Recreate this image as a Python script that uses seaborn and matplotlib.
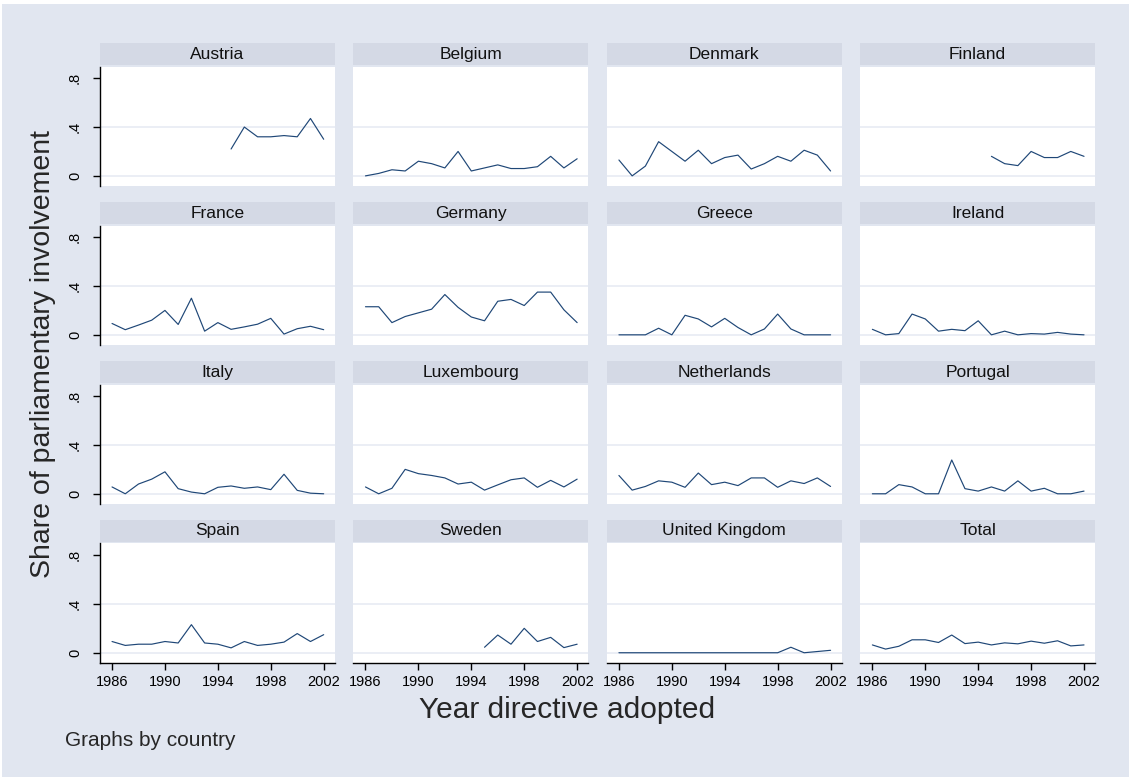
import numpy as np
import pandas as pd
import matplotlib
matplotlib.use("Agg")
import matplotlib.pyplot as plt
from matplotlib.patches import Rectangle
import seaborn as sns

na = np.nan
years = list(range(1986, 2003))
countries = ["Austria", "Belgium", "Denmark", "Finland",
             "France", "Germany", "Greece", "Ireland",
             "Italy", "Luxembourg", "Netherlands", "Portugal",
             "Spain", "Sweden", "United Kingdom", "Total"]

# share of directives with parliamentary involvement, 1986..2002
austria = [na] * 9 + [0.22, 0.40, 0.32, 0.32, 0.33, 0.32, 0.47, 0.30]
belgium = [0.0, 0.02, 0.05, 0.04, 0.12, 0.10, 0.065, 0.20, 0.04, 0.065, 0.09, 0.06, 0.06, 0.075, 0.16, 0.065, 0.14]
denmark = [0.13, 0.0, 0.08, 0.28, 0.20, 0.12, 0.21, 0.10, 0.15, 0.17, 0.056, 0.10, 0.16, 0.12, 0.21, 0.17, 0.04]
finland = [na] * 9 + [0.16, 0.10, 0.084, 0.20, 0.15, 0.15, 0.20, 0.16]
france = [0.093, 0.042, 0.08, 0.12, 0.20, 0.085, 0.30, 0.03, 0.10, 0.045, 0.065, 0.087, 0.135, 0.006, 0.05, 0.07, 0.042]
germany = [0.23, 0.23, 0.10, 0.15, 0.18, 0.21, 0.33, 0.225, 0.146, 0.115, 0.275, 0.29, 0.24, 0.35, 0.35, 0.205, 0.10]
greece = [0.0, 0.0, 0.0, 0.054, 0.0, 0.16, 0.13, 0.065, 0.135, 0.06, 0.0, 0.048, 0.17, 0.048, 0.0, 0.0, 0.0]
ireland = [0.045, 0.0, 0.01, 0.17, 0.13, 0.03, 0.045, 0.034, 0.115, 0.0, 0.03, 0.0, 0.01, 0.006, 0.02, 0.006, 0.0]
italy = [0.056, 0.0, 0.08, 0.12, 0.18, 0.042, 0.014, 0.0, 0.053, 0.064, 0.045, 0.056, 0.034, 0.16, 0.028, 0.005, 0.0]
luxembourg = [0.056, 0.0, 0.045, 0.20, 0.165, 0.15, 0.13, 0.08, 0.095, 0.03, 0.073, 0.115, 0.13, 0.053, 0.11, 0.056, 0.12]
netherlands = [0.15, 0.03, 0.06, 0.106, 0.095, 0.053, 0.17, 0.075, 0.095, 0.067, 0.13, 0.13, 0.053, 0.106, 0.084, 0.13, 0.06]
portugal = [0.0, 0.0, 0.075, 0.056, 0.0, 0.0, 0.277, 0.042, 0.022, 0.056, 0.022, 0.106, 0.022, 0.045, 0.0, 0.0, 0.022]
spain = [0.092, 0.06, 0.07, 0.07, 0.092, 0.08, 0.23, 0.08, 0.07, 0.04, 0.092, 0.06, 0.07, 0.087, 0.157, 0.092, 0.148]
sweden = [na] * 9 + [0.045, 0.145, 0.07, 0.20, 0.092, 0.126, 0.042, 0.07]
uk = [0.0] * 13 + [0.045, 0.0, 0.01, 0.02]
total = [0.064, 0.03, 0.053, 0.106, 0.106, 0.084, 0.145, 0.075, 0.087, 0.064, 0.081, 0.073, 0.095, 0.078, 0.098, 0.056, 0.064]

series = [austria, belgium, denmark, finland, france, germany, greece, ireland,
          italy, luxembourg, netherlands, portugal, spain, sweden, uk, total]

xticks = [1986, 1990, 1994, 1998, 2002]
yticks = [0, 0.4, 0.8]
ytick_labels = ["0", ".4", ".8"]

rows = []
for name, vals in zip(countries, series):
    for yr, v in zip(years, vals):
        if not np.isnan(v):
            rows.append({"country": name, "year": yr, "share": v})
df = pd.DataFrame(rows)

bg = "#e1e6f0"
strip = "#d4d9e5"
gridc = "#e6eaf2"
navy = "#1f4777"

sns.set_style("white")
plt.rcParams["font.family"] = ["Liberation Sans", "DejaVu Sans"]

g = sns.relplot(data=df, x="year", y="share", col="country", col_wrap=4,
                col_order=countries, kind="line", color=navy, linewidth=0.85,
                errorbar=None, height=2, aspect=1.5,
                facet_kws=dict(sharex=True, sharey=True, despine=False))
fig = g.figure
fig.set_size_inches(11.31, 7.81)
fig.subplots_adjust(left=100 / 1131, right=1095 / 1131,
                    top=1 - 66.6 / 781, bottom=1 - 663 / 781,
                    wspace=0.08, hspace=0.33)
fig.patch.set_facecolor("white")
fig.add_artist(Rectangle((2 / 1131, 4 / 781), 1127 / 1131, 773 / 781,
                         transform=fig.transFigure, facecolor=bg,
                         edgecolor="none", zorder=-10))

g.set_titles("")
g.set_axis_labels("", "")
ph = 119.5
for i, ax in enumerate(g.axes.flat):
    r, c = divmod(i, 4)
    ax.set_facecolor("white")
    ax.set_xlim(1985.09, 2002.83)
    ax.set_ylim(-0.084, 0.895)
    ax.set_xticks(xticks)
    ax.set_yticks(yticks)
    ax.set_yticklabels(ytick_labels)
    for yv in [0, 0.4]:
        ax.axhline(yv, color=gridc, lw=1.1, zorder=0)
    for s in ax.spines.values():
        s.set_visible(False)
    if c == 0:
        ax.spines["left"].set_visible(True)
        ax.spines["left"].set_color("black")
        ax.spines["left"].set_linewidth(1.0)
    if r == 3:
        ax.spines["bottom"].set_visible(True)
        ax.spines["bottom"].set_color("black")
        ax.spines["bottom"].set_linewidth(1.0)
    ax.tick_params(axis="y", left=(c == 0), labelleft=(c == 0), length=5,
                   width=1, direction="out", labelsize=10.5, pad=8,
                   labelrotation=90, colors="black")
    ax.tick_params(axis="x", bottom=(r == 3), labelbottom=(r == 3), length=5,
                   width=1, direction="out", labelsize=10.5, pad=4,
                   colors="black")
    for lbl in ax.get_yticklabels():
        lbl.set_va("center")
    ax.add_patch(Rectangle((0, 1 + 1.5 / ph), 1, 22 / ph, transform=ax.transAxes,
                           facecolor=strip, edgecolor="none", clip_on=False))
    ax.text(0.5, 1 + 12.5 / ph, countries[i], transform=ax.transAxes,
            ha="center", va="center", fontsize=12.5, color="#111111")

fig.text(43 / 1131, 1 - 354 / 781, "Share of parliamentary involvement",
         rotation=90, ha="center", va="center", fontsize=20.5)
fig.text(567 / 1131, 1 - 710 / 781, "Year directive adopted",
         ha="center", va="center", fontsize=21.5)
fig.text(65 / 1131, 1 - 741 / 781, "Graphs by country",
         ha="left", va="center", fontsize=15)

fig.savefig("out.png", dpi=100, facecolor="white")
